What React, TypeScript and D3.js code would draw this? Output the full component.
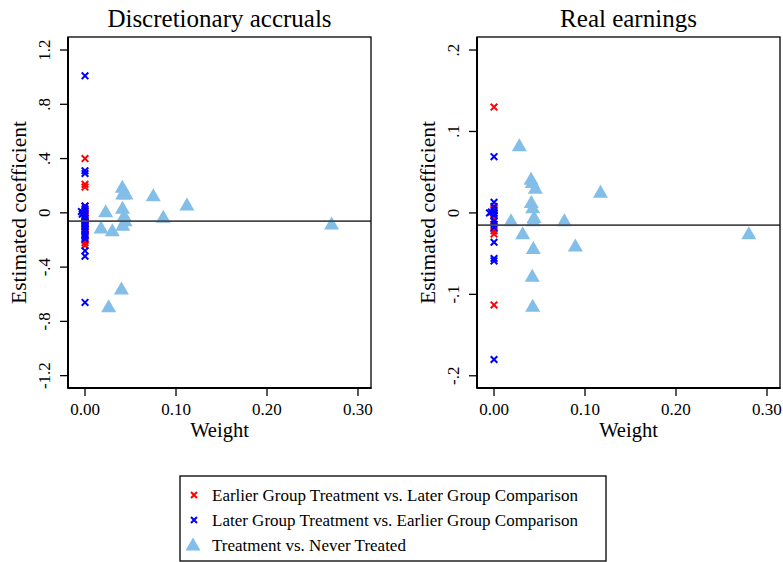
import React from "react";
import * as d3 from "d3";

// weights and estimates
const titles = ["Discretionary accruals", "Real earnings"];

const daEarlyW = [0, 0, 0, 0, 0, 0, 0, 0, 0, 0, 0, 0, 0, 0];
const daEarlyB = [0.40, 0.21, 0.19, 0.05, 0.02, -0.03, -0.06, -0.09, -0.11, -0.13, -0.17, -0.20, -0.22, -0.24];
const daLateW = [0, 0, 0, 0, -0.004, -0.003, -0.002, 0, 0, 0, 0, 0, 0, 0, 0, 0, 0, 0, 0, 0, 0, 0, 0];
const daLateB = [1.01, 0.31, 0.29, 0.05, 0.01, -0.01, 0.0, 0.03, 0.0, -0.02, -0.04, -0.05, -0.07, -0.08, -0.10, -0.12, -0.14, -0.16, -0.17, -0.19, -0.28, -0.32, -0.66];
const daNeverW = [0.041, 0.0414, 0.045, 0.0227, 0.0412, 0.043, 0.044, 0.0415, 0.0176, 0.030, 0.075, 0.086, 0.112, 0.271, 0.040, 0.026];
const daNeverB = [0.18, 0.13, 0.13, 0.0, 0.025, -0.03, -0.066, -0.10, -0.12, -0.14, 0.118, -0.041, 0.049, -0.091, -0.57, -0.70];
const daMean = -0.061;
const daTicks = [-1.2, -0.8, -0.4, 0, 0.4, 0.8, 1.2];
const daTickLabels = ["-1.2", "-.8", "-.4", "0", ".4", ".8", "1.2"];

const reEarlyW = [0, 0, 0, 0, 0, 0, 0, 0, 0];
const reEarlyB = [0.13, 0.005, 0.0, -0.004, -0.008, -0.018, -0.022, -0.026, -0.113];
const reLateW = [0, 0, 0, 0, -0.005, -0.003, 0, 0, 0, 0, 0, 0, 0, 0, 0];
const reLateB = [0.069, 0.013, 0.008, 0.003, 0.0, 0.001, 0.0, -0.003, -0.01, -0.014, -0.018, -0.036, -0.056, -0.059, -0.18];
const reNeverW = [0.0278, 0.0187, 0.0315, 0.0407, 0.042, 0.0454, 0.041, 0.0425, 0.044, 0.0432, 0.0432, 0.042, 0.0425, 0.0773, 0.0894, 0.117, 0.280];
const reNeverB = [0.081, -0.011, -0.027, 0.040, 0.036, 0.029, 0.0115, 0.005, -0.007, -0.011, -0.045, -0.079, -0.116, -0.011, -0.042, 0.024, -0.027];
const reMean = -0.0151;
const reTicks = [-0.2, -0.1, 0, 0.1, 0.2];
const reTickLabels = ["-.2", "-.1", "0", ".1", ".2"];

const xTicks = [0, 0.1, 0.2, 0.3];
const legendLabels = [
  "Earlier Group Treatment vs. Later Group Comparison",
  "Later Group Treatment vs. Earlier Group Comparison",
  "Treatment vs. Never Treated",
];

const RED = "#ff0000";
const BLUE = "#0000ff";
const TRI = "#82bee8";
const FONT = "Liberation Serif, DejaVu Serif, serif";

const triPath = (cx, cy, s = 1) => {
  const w = 7.5 * s, up = 8.6 * s, dn = 4.4 * s;
  return `M${cx},${cy - up}L${cx + w},${cy + dn}L${cx - w},${cy + dn}Z`;
};

const Cross = ({ x, y, color, r = 3.3 }) => (
  <path d={`M${x - r},${y - r}L${x + r},${y + r}M${x - r},${y + r}L${x + r},${y - r}`}
    stroke={color} strokeWidth={2} fill="none" />
);

function Panel({ left, title, yDomain, ticks, tickLabels, early, late, never, mean }) {
  const top = 37, bottom = 388, right = left + 303;
  const x = d3.scaleLinear().domain([-0.0187, 0.3143]).range([left, right]);
  const y = d3.scaleLinear().domain(yDomain).range([bottom, top]);
  return (
    <g>
      <text x={(left + right) / 2} y={27} textAnchor="middle" fontSize={25}>{title}</text>
      {never.w.map((w, i) => (
        <path key={"n" + i} d={triPath(x(w), y(never.b[i]))} fill={TRI} />
      ))}
      {early.w.map((w, i) => <Cross key={"e" + i} x={x(w)} y={y(early.b[i])} color={RED} />)}
      {late.w.map((w, i) => <Cross key={"l" + i} x={x(w)} y={y(late.b[i])} color={BLUE} />)}
      <line x1={left} x2={right} y1={y(mean)} y2={y(mean)} stroke="#4a4a4a" strokeWidth={1.8} />
      <rect x={left} y={top} width={right - left} height={bottom - top} fill="none" stroke="#000" strokeWidth={1.3} />
      <line x1={left} x2={left} y1={top} y2={bottom + 0.5} stroke="#000" strokeWidth={2} />
      <line x1={left} x2={right + 0.5} y1={bottom} y2={bottom} stroke="#000" strokeWidth={2} />
      {ticks.map((t, i) => (
        <g key={"yt" + i}>
          <line x1={left - 8} x2={left} y1={y(t)} y2={y(t)} stroke="#000" strokeWidth={1.3} />
          <text transform={`translate(${left - 18},${y(t)}) rotate(-90)`} textAnchor="middle"
            fontSize={17}>{tickLabels[i]}</text>
        </g>
      ))}
      {xTicks.map((t, i) => (
        <g key={"xt" + i}>
          <line x1={x(t)} x2={x(t)} y1={bottom} y2={bottom + 8} stroke="#000" strokeWidth={1.3} />
          <text x={x(t)} y={415} textAnchor="middle" fontSize={17}>{d3.format(".2f")(t)}</text>
        </g>
      ))}
      <text x={(left + right) / 2} y={437} textAnchor="middle" fontSize={20.5}>Weight</text>
      <text transform={`translate(${left - 42},${(top + bottom) / 2}) rotate(-90)`} textAnchor="middle"
        fontSize={21.5}>Estimated coefficient</text>
    </g>
  );
}

export default function App() {
  return (
    <svg width={783} height={562}
      style={{ position: "absolute", left: 0, top: 0, background: "#fff", fontFamily: FONT }}>
      <rect width={783} height={562} fill="#fff" />
      <Panel left={68} title={titles[0]} yDomain={[-1.291, 1.296]} ticks={daTicks} tickLabels={daTickLabels}
        early={{ w: daEarlyW, b: daEarlyB }} late={{ w: daLateW, b: daLateB }}
        never={{ w: daNeverW, b: daNeverB }} mean={daMean} />
      <Panel left={477} title={titles[1]} yDomain={[-0.215, 0.216]} ticks={reTicks} tickLabels={reTickLabels}
        early={{ w: reEarlyW, b: reEarlyB }} late={{ w: reLateW, b: reLateB }}
        never={{ w: reNeverW, b: reNeverB }} mean={reMean} />
      <g>
        <rect x={180} y={476} width={426} height={85} fill="#fff" stroke="#000" strokeWidth={1.3} />
        <Cross x={194} y={495} color={RED} r={3} />
        <Cross x={194} y={520} color={BLUE} r={3} />
        <path d={triPath(193, 546)} fill={TRI} />
        {legendLabels.map((l, i) => (
          <text key={l} x={212} y={495 + i * 25} dy="0.35em" fontSize={17}>{l}</text>
        ))}
      </g>
    </svg>
  );
}
